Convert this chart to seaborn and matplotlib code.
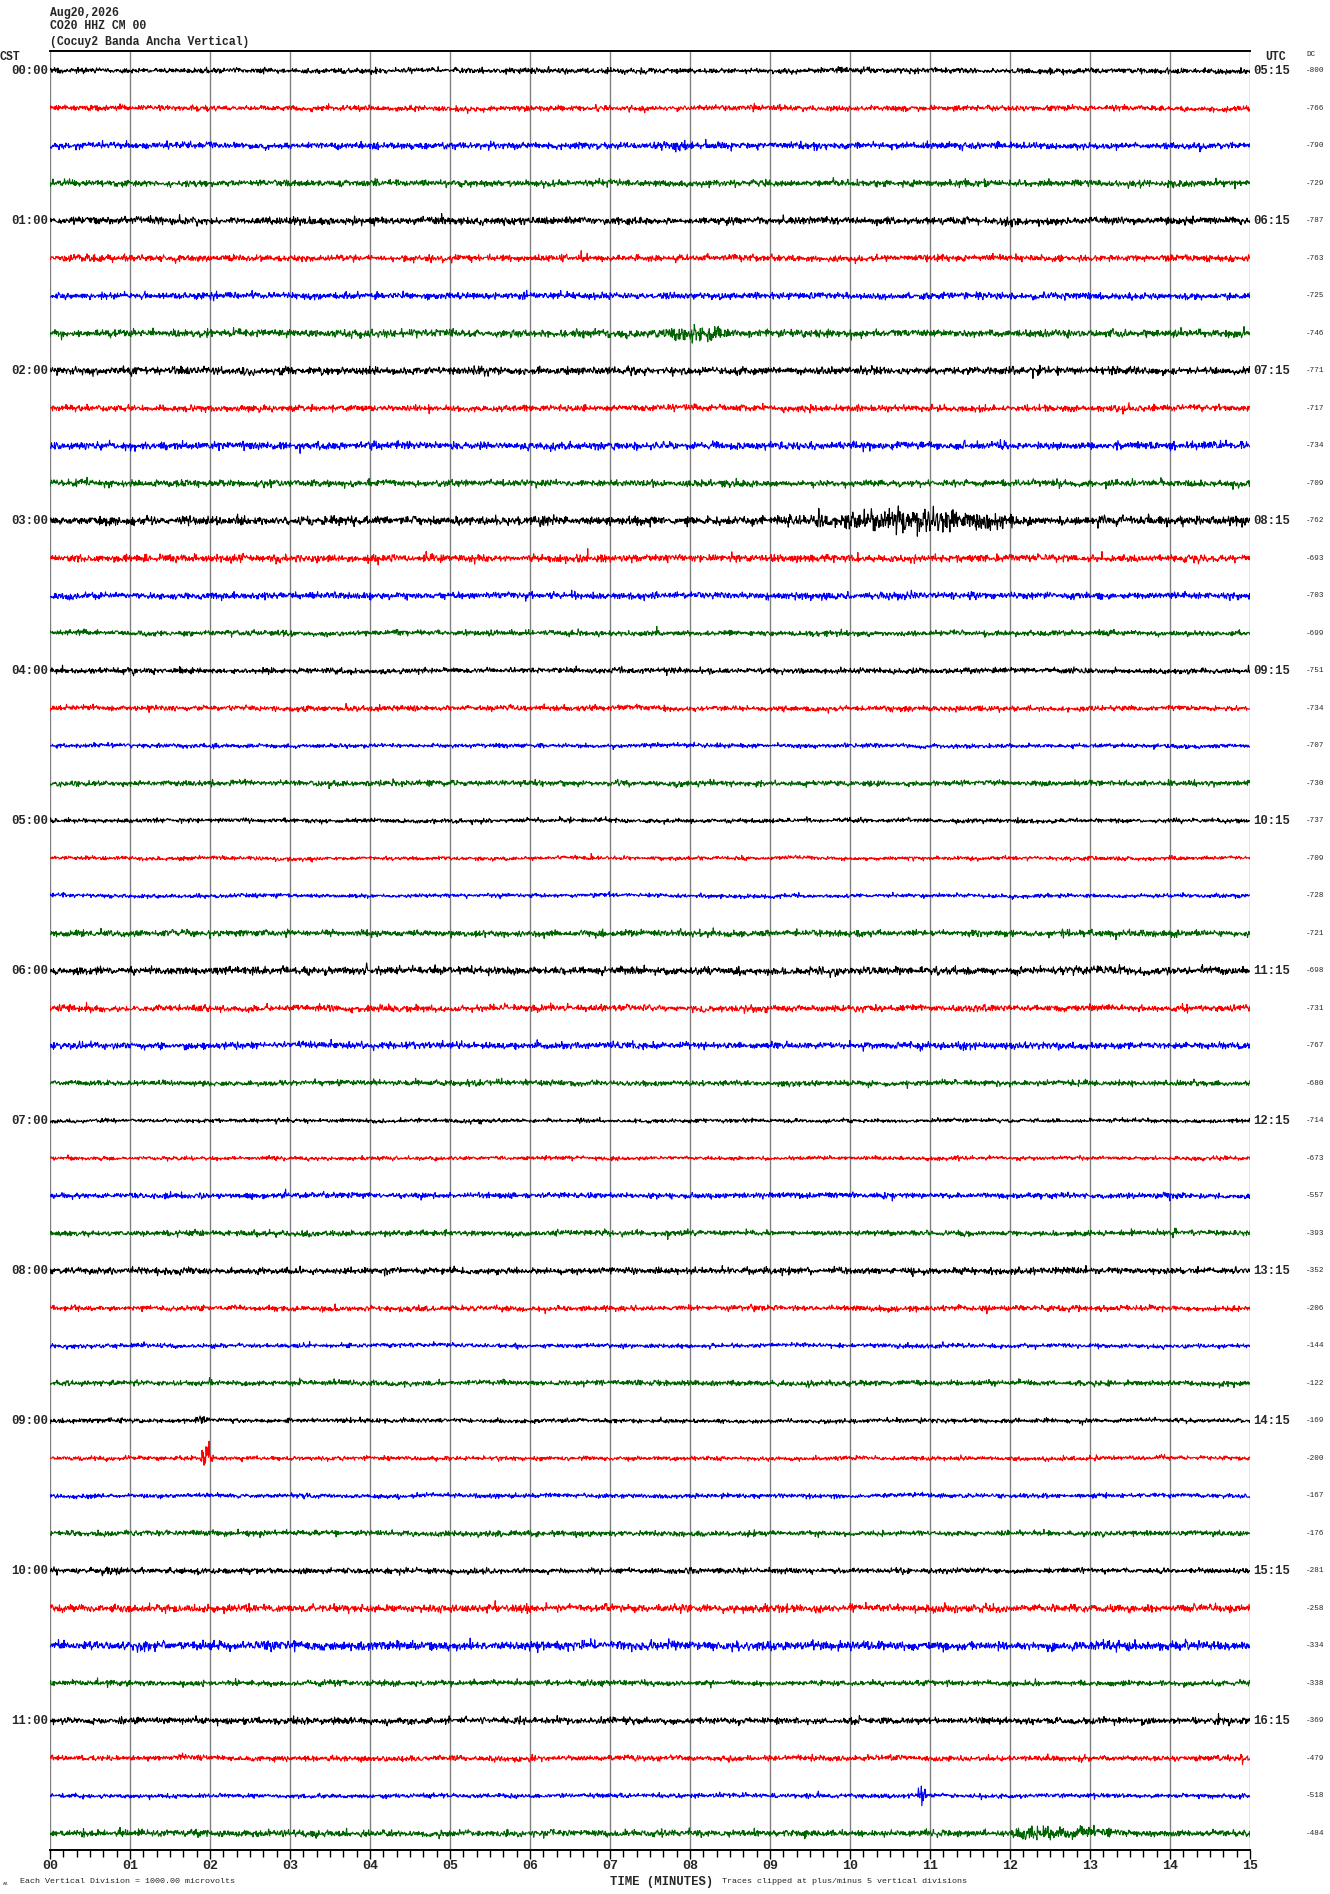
import numpy as np
import pandas as pd
import matplotlib
matplotlib.use("Agg")
import matplotlib.pyplot as plt
import seaborn as sns
from matplotlib.ticker import MultipleLocator, FixedLocator

# ---------------- data ----------------
header_lines = ["Aug20,2026", "CO20 HHZ CM 00", "(Cocuy2 Banda Ancha Vertical)"]
cst_labels = ["00:00", "01:00", "02:00", "03:00", "04:00", "05:00",
              "06:00", "07:00", "08:00", "09:00", "10:00", "11:00"]
utc_labels = ["05:15", "06:15", "07:15", "08:15", "09:15", "10:15",
              "11:15", "12:15", "13:15", "14:15", "15:15", "16:15"]
dc_values = [-800, -766, -790, -729,
             -787, -763, -725, -746,
             -771, -717, -734, -709,
             -762, -693, -703, -699,
             -751, -734, -707, -730,
             -737, -709, -728, -721,
             -698, -731, -767, -680,
             -714, -673, -557, -393,
             -352, -206, -144, -122,
             -169, -200, -167, -176,
             -281, -258, -334, -338,
             -369, -479, -518, -484]
trace_colors = ["#000000", "#ff0000", "#0000ff", "#006400"]
# typical half-amplitude of background noise per trace (pixels)
noise_px = [2.5, 2.5, 3.0, 3.0, 3.5, 3.0, 3.0, 3.5,
            3.5, 3.0, 3.5, 3.0, 4.0, 3.5, 3.0, 2.5,
            2.5, 2.5, 2.0, 2.5, 2.0, 1.8, 1.8, 3.0,
            3.5, 3.0, 3.0, 2.5, 1.8, 1.8, 2.5, 2.5,
            3.0, 2.5, 2.0, 2.5, 2.0, 2.0, 2.0, 2.5,
            2.5, 3.5, 4.0, 2.5, 3.0, 2.5, 2.0, 3.0]
# events: trace index, start (min), peak (min), end (min), peak half-amplitude (px)
ev_trace = [2, 7, 12, 12, 12, 14, 19, 24, 30, 31, 36, 37, 40, 42, 42, 45, 46, 47]
ev_start = [7.5, 7.6, 6.10, 9.55, 9.58, 9.6, 7.85, 13.2, 13.9, 13.9, 1.8, 1.88, 0.6, 1.0, 13.0, 14.85, 10.84, 12.0]
ev_peak = [7.8, 8.0, 6.15, 10.8, 9.62, 9.8, 7.90, 13.35, 14.0, 14.0, 1.9, 1.96, 0.75, 1.2, 13.4, 14.95, 10.9, 12.2]
ev_end = [8.1, 8.6, 6.20, 12.2, 9.75, 10.0, 7.95, 13.5, 14.1, 14.1, 2.0, 2.04, 0.9, 1.4, 13.8, 15.0, 10.96, 13.5]
ev_amp = [5, 9, 8, 13, 12, 4.5, 6, 5, 5, 7, 4, 18, 5, 6, 6, 8, 12, 7]
minute_labels = ["%02d" % m for m in range(16)]

# ---------------- geometry ----------------
W, H = 1330, 1894
X0, X1 = 50, 1250          # plot left/right (px)
Y_TOP, Y_BOT = 51, 1850     # top line / bottom axis (px)
Y_FIRST, SPACING = 70.7, 37.5
n_tr = len(dc_values)

sns.set_theme(style="white")
plt.rcParams["font.family"] = ["Liberation Mono", "DejaVu Sans Mono"]

fig = plt.figure(figsize=(W / 100, H / 100), dpi=100)
ax = fig.add_axes([X0 / W, 1 - Y_BOT / H, (X1 - X0) / W, (Y_BOT - Y_TOP) / H])
ylo = -(Y_FIRST - Y_TOP) / SPACING
yhi = (n_tr - 1) + (Y_BOT - (Y_FIRST + SPACING * (n_tr - 1))) / SPACING
ax.set_xlim(0, 15)
ax.set_ylim(yhi, ylo)

# minute grid
for m in range(16):
    ax.axvline(m, color="#808080", lw=1.0, zorder=1)

# ---------------- traces ----------------
rng = np.random.default_rng(20260820)
n = 2400
t = np.linspace(0, 15, n)
for i in range(n_tr):
    base = noise_px[i]
    env = np.full(n, base)
    for k in range(len(ev_trace)):
        if ev_trace[k] != i:
            continue
        s, p, e, a = ev_start[k], ev_peak[k], ev_end[k], ev_amp[k]
        shape = np.zeros(n)
        up = (t >= s) & (t <= p)
        dn = (t > p) & (t <= e)
        shape[up] = (t[up] - s) / max(p - s, 1e-6)
        shape[dn] = 1 - (t[dn] - p) / max(e - p, 1e-6)
        env = np.maximum(env, base + (a - base) * shape ** 0.8)
    white = rng.standard_normal(n) * 0.5
    spk = rng.standard_normal(n) * (rng.random(n) < 0.025) * 0.6
    wander = np.convolve(rng.standard_normal(n + 100), np.ones(100) / np.sqrt(100), "valid")[:n] * 0.35
    sig_px = env * (white + spk) + wander
    sig_px = np.clip(sig_px, -5 * SPACING, 5 * SPACING)
    y = i - sig_px / SPACING
    df = pd.DataFrame({"t": t, "y": y})
    sns.lineplot(data=df, x="t", y="y", color=trace_colors[i % 4], lw=0.8,
                 ax=ax, estimator=None, sort=False, zorder=3)

ax.set_xlabel("")
ax.set_ylabel("")
ax.set_yticks([])

# spines
for side in ["left", "right"]:
    ax.spines[side].set_visible(False)
for side in ["top", "bottom"]:
    ax.spines[side].set_visible(True)
    ax.spines[side].set_color("black")
    ax.spines[side].set_linewidth(1.4)

ax.xaxis.set_major_locator(FixedLocator(range(16)))
ax.xaxis.set_minor_locator(MultipleLocator(1 / 6))
ax.set_xticklabels(minute_labels)
ax.tick_params(axis="x", which="major", direction="out", length=6.5, width=1.0,
               color="black", bottom=True, top=False, pad=1, labelsize=9.5)
ax.tick_params(axis="x", which="minor", direction="out", length=5, width=1.0,
               color="black", bottom=True, top=False)
for lab in ax.get_xticklabels():
    lab.set_fontweight("bold")


def fx(px):
    return px / W


def fy(py):
    return 1 - py / H


# ---------------- texts ----------------
for j, line in enumerate(header_lines):
    fig.text(fx(50), fy([13, 26, 42][j]), line, ha="left", va="center",
             fontsize=8.3, fontweight="bold")
fig.text(fx(0), fy(57), "CST", ha="left", va="center", fontsize=8.3, fontweight="bold")
fig.text(fx(1265), fy(57), "UTC", ha="left", va="center", fontsize=8.3, fontweight="bold")
fig.text(fx(1306), fy(54), "DC", ha="left", va="center", fontsize=5.5)

for h in range(len(cst_labels)):
    yy = Y_FIRST + SPACING * 4 * h
    fig.text(fx(48), fy(yy), cst_labels[h], ha="right", va="center",
             fontsize=8.8, fontweight="bold")
    fig.text(fx(1253), fy(yy), utc_labels[h], ha="left", va="center",
             fontsize=8.8, fontweight="bold")
for i, v in enumerate(dc_values):
    fig.text(fx(1306), fy(Y_FIRST + SPACING * i), str(v), ha="left", va="center",
             fontsize=5.5)

fig.text(fx(662), fy(1882), "TIME (MINUTES)", ha="center", va="center",
         fontsize=8.8, fontweight="bold")
fig.text(fx(722), fy(1881), "Traces clipped at plus/minus 5 vertical divisions",
         ha="left", va="center", fontsize=6)
fig.text(fx(20), fy(1881), "Each Vertical Division = 1000.00 microvolts",
         ha="left", va="center", fontsize=6)
fig.text(fx(3), fy(1883), "\u028d", ha="left", va="center", fontsize=4,
         family=["DejaVu Sans"])

fig.savefig("out.png", dpi=100)
